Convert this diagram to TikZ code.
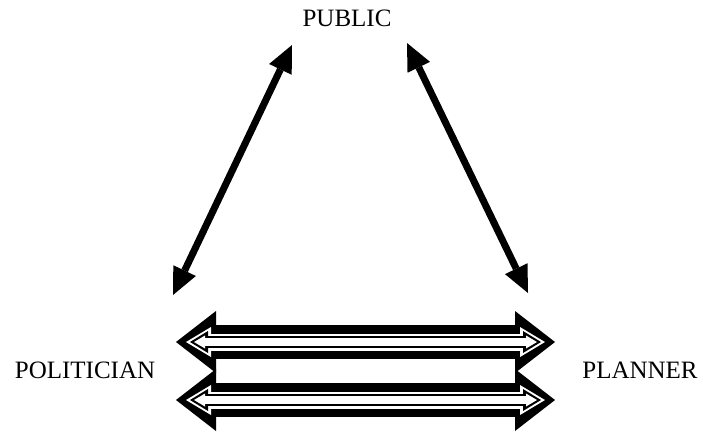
\documentclass[tikz,border=0pt]{standalone}
\usepackage{fontspec}
\setmainfont{Liberation Serif}
\usetikzlibrary{arrows.meta}

\tikzset{
  thinhead/.tip={Triangle[length=27pt,width=25pt,line width=0pt]},
  headA/.tip={Triangle[length=40pt,width=62pt,line width=0pt]},
  headB/.tip={Triangle[length=25pt,width=30pt,line width=0pt]},
  headC/.tip={Triangle[length=18pt,width=22pt,line width=0pt]},
  headD/.tip={Triangle[length=11pt,width=13pt,line width=0pt]},
  party/.style={font=\fontsize{25}{30}\selectfont,inner sep=0pt,anchor=base},
  talk/.style={line width=7pt,thinhead-thinhead},
  fatlink/.style={line width=34pt,headA-headA,
    postaction={draw=white,line width=17pt,shorten <=10pt,shorten >=10pt,headB-headB},
    postaction={draw=black,line width=12pt,shorten <=14pt,shorten >=14pt,headC-headC},
    postaction={draw=white,line width=8pt,shorten <=18pt,shorten >=18pt,headD-headD}}
}

\begin{document}
\begin{tikzpicture}[x=1pt,y=-1pt]
    \useasboundingbox (0,0) rectangle (703,431);
    \node[party] (pub) at (347,26) {PUBLIC};
    \node[party] (pol) at (85,378) {POLITICIAN};
    \node[party] (plan) at (640,378) {PLANNER};
    % ends of the arrows
    \coordinate (polTop) at (173,295);
    \coordinate (pubLeft) at (292,45);
    \coordinate (pubRight) at (407,43);
    \coordinate (planTop) at (528,293);
    \coordinate (polA) at (176,342);
    \coordinate (planA) at (555,342);
    \coordinate (polB) at (176,400);
    \coordinate (planB) at (555,400);
    \draw[talk] (polTop) -- (pubLeft);
    \draw[talk] (pubRight) -- (planTop);
    \draw[fatlink] (polA) -- (planA);
    \draw[fatlink] (polB) -- (planB);
\end{tikzpicture}
\end{document}
